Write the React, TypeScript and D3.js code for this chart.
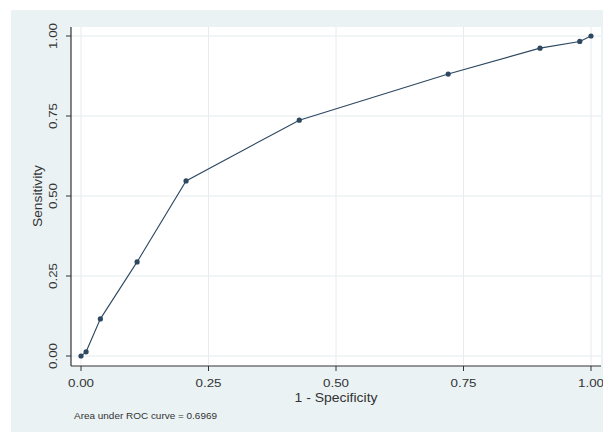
import React from "react";
import * as d3 from "d3";

const fpr = [0, 0.01, 0.038, 0.11, 0.206, 0.428, 0.72, 0.9, 0.978, 1];
const tpr = [0, 0.013, 0.116, 0.294, 0.547, 0.737, 0.881, 0.962, 0.983, 1];
const ticks = [0, 0.25, 0.5, 0.75, 1];
const auc = 0.6969;

const W = 603;
const H = 432;

export default function App() {
  const x = d3.scaleLinear().domain([0, 1]).range([81, 591]);
  const y = d3.scaleLinear().domain([0, 1]).range([356, 36]);
  const pts = fpr.map((v, i) => [v, tpr[i]] as [number, number]);
  const line = d3
    .line<[number, number]>()
    .x((d) => x(d[0]))
    .y((d) => y(d[1]));
  const font = "'Liberation Sans', Arial, sans-serif";
  const plotL = 71, plotR = 601, plotT = 27, plotB = 366;
  const col = "#2d4860";
  return (
    <div style={{ position: "absolute", left: 0, top: 0 }}>
      <svg width={W} height={H} style={{ display: "block" }}>
        <rect x={0} y={0} width={W} height={H} fill="#ffffff" />
        <rect x={11} y={10} width={W - 11} height={H - 10} fill="#eaf2f3" />
        <rect x={plotL} y={plotT} width={plotR - plotL} height={plotB - plotT} fill="#ffffff" />
        {ticks.map((t) => (
          <g key={"g" + t}>
            <line x1={x(t)} x2={x(t)} y1={plotT} y2={plotB} stroke="#e6ecee" strokeWidth={1} />
            <line x1={plotL} x2={plotR} y1={y(t)} y2={y(t)} stroke="#e6ecee" strokeWidth={1} />
          </g>
        ))}
        <line x1={plotL} x2={plotL} y1={plotT} y2={plotB} stroke="#333" strokeWidth={1.2} />
        <line x1={plotL} x2={plotR} y1={plotB} y2={plotB} stroke="#333" strokeWidth={1.2} />
        {ticks.map((t) => (
          <g key={"t" + t}>
            <line x1={plotL - 5} x2={plotL} y1={y(t)} y2={y(t)} stroke="#333" strokeWidth={1} />
            <line x1={x(t)} x2={x(t)} y1={plotB} y2={plotB + 5} stroke="#333" strokeWidth={1} />
            <text
              transform={`translate(${57},${y(t)}) rotate(-90)`}
              textAnchor="middle"
              fontFamily={font}
              fontSize={11.5}
              fill="#333"
              textLength={26}
              lengthAdjust="spacingAndGlyphs"
            >
              {t.toFixed(2)}
            </text>
            <text
              x={x(t)}
              y={387}
              textAnchor="middle"
              fontFamily={font}
              fontSize={11.5}
              fill="#333"
              textLength={26}
              lengthAdjust="spacingAndGlyphs"
            >
              {t.toFixed(2)}
            </text>
          </g>
        ))}
        <text
          transform={`translate(${42},${y(0.5)}) rotate(-90)`}
          textAnchor="middle"
          fontFamily={font}
          fontSize={12}
          fill="#333"
          textLength={62}
          lengthAdjust="spacingAndGlyphs"
        >
          Sensitivity
        </text>
        <text
          x={x(0.5)}
          y={402}
          textAnchor="middle"
          fontFamily={font}
          fontSize={12}
          fill="#333"
          textLength={83}
          lengthAdjust="spacingAndGlyphs"
        >
          1 - Specificity
        </text>
        <text x={74} y={419} fontFamily={font} fontSize={9} fill="#333" textLength={143} lengthAdjust="spacingAndGlyphs">
          {`Area under ROC curve = ${auc.toFixed(4)}`}
        </text>
        <path d={line(pts) || ""} fill="none" stroke={col} strokeWidth={1.1} />
        {pts.map((p, i) => (
          <circle key={i} cx={x(p[0])} cy={y(p[1])} r={2.6} fill={col} />
        ))}
      </svg>
    </div>
  );
}
